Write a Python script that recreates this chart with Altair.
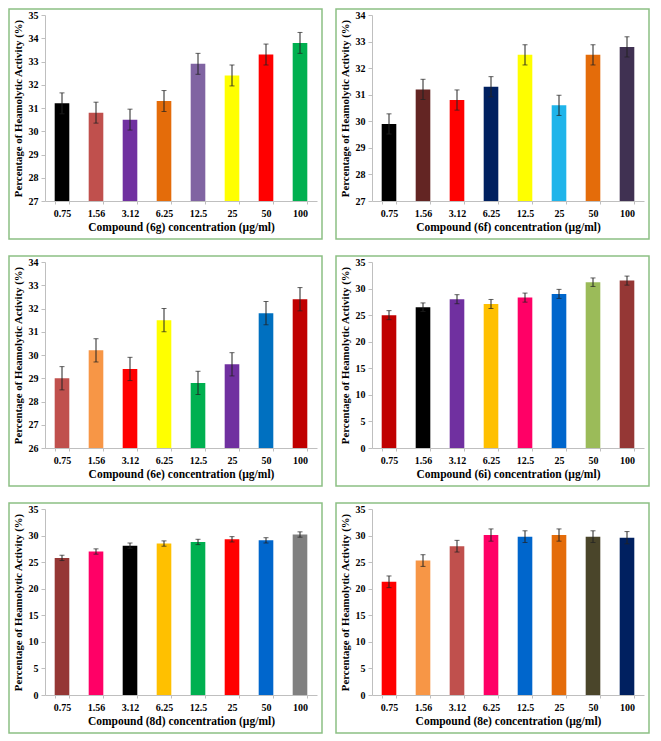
import altair as alt
import pandas as pd

conc = ["0.75", "1.56", "3.12", "6.25", "12.5", "25", "50", "100"]

# Compound 6g
v_6g = [31.2, 30.8, 30.5, 31.3, 32.9, 32.4, 33.3, 33.8]
e_6g = [0.45, 0.45, 0.45, 0.45, 0.45, 0.45, 0.45, 0.45]
c_6g = ["#000000", "#C0504D", "#7030A0", "#E46C0A", "#8064A2", "#FFFF00", "#FF0000", "#00B050"]

# Compound 6f
v_6f = [29.9, 31.2, 30.8, 31.3, 32.5, 30.6, 32.5, 32.8]
e_6f = [0.38, 0.38, 0.38, 0.38, 0.38, 0.38, 0.38, 0.38]
c_6f = ["#000000", "#632523", "#FF0000", "#002060", "#FFFF00", "#1FB4EA", "#E46C0A", "#403152"]

# Compound 6e
v_6e = [29.0, 30.2, 29.4, 31.5, 28.8, 29.6, 31.8, 32.4]
e_6e = [0.5, 0.5, 0.5, 0.5, 0.5, 0.5, 0.5, 0.5]
c_6e = ["#C0504D", "#F79646", "#FF0000", "#FFFF00", "#00B050", "#7030A0", "#0070C0", "#C00000"]

# Compound 6i
v_6i = [25.0, 26.5, 28.0, 27.1, 28.3, 29.0, 31.2, 31.5]
e_6i = [0.85, 0.8, 0.85, 0.85, 0.85, 0.85, 0.8, 0.85]
c_6i = ["#C00000", "#000000", "#7030A0", "#FFC000", "#FF0066", "#0066CC", "#9BBB59", "#953735"]

# Compound 8d
v_8d = [25.8, 27.0, 28.1, 28.5, 28.8, 29.3, 29.1, 30.2]
e_8d = [0.5, 0.5, 0.5, 0.5, 0.5, 0.5, 0.5, 0.5]
c_8d = ["#953735", "#FF0066", "#000000", "#FFC000", "#00B050", "#FF0000", "#0066CC", "#808080"]

# Compound 8e
v_8e = [21.3, 25.3, 28.0, 30.1, 29.8, 30.1, 29.8, 29.6]
e_8e = [1.1, 1.1, 1.1, 1.15, 1.1, 1.15, 1.1, 1.15]
c_8e = ["#FF0000", "#F79646", "#C0504D", "#FF0066", "#0066CC", "#E46C0A", "#4A452A", "#002060"]

Y_TITLE = "Percentage of Heamolytic Activity (%)"
W = 272
H = 186
FONT = "Liberation Serif"
BORDER = "#8CC084"


def panel(name, vals, errs, cols, dmin, dmax, step):
    df = pd.DataFrame({
        "conc": conc,
        "val": vals,
        "lo": [v - e for v, e in zip(vals, errs)],
        "hi": [v + e for v, e in zip(vals, errs)],
        "col": cols,
    })
    xscale = alt.Scale(paddingInner=0.57, paddingOuter=0.285)
    xaxis = alt.Axis(title=f"Compound ({name}) concentration (µg/ml)", labelAngle=0,
                     tickBand="extent", tickSize=3, labelPadding=4, titlePadding=3,
                     titleFontSize=11.5)
    xenc = alt.X("conc:N", sort=conc, scale=xscale, axis=xaxis)
    yscale = alt.Scale(domain=[dmin, dmax], nice=False, zero=False)
    ticks = list(range(dmin, dmax + 1, step))
    yaxis = alt.Axis(title=Y_TITLE, values=ticks, tickSize=4, labelPadding=3,
                     labelOverlap=False, titlePadding=5, titleFontSize=10.8)
    base = alt.Chart(df)
    bars = base.mark_bar().encode(
        x=xenc,
        y=alt.Y("val:Q", scale=yscale, axis=yaxis),
        y2=alt.datum(dmin),
        color=alt.Color("col:N", scale=None),
    )
    rule = base.mark_rule(color="#222222", strokeWidth=1).encode(
        x=xenc, y=alt.Y("lo:Q", scale=yscale, axis=yaxis), y2="hi:Q"
    )
    cap_hi = base.mark_tick(color="#222222", size=5, thickness=1).encode(
        x=xenc, y=alt.Y("hi:Q", scale=yscale, axis=yaxis)
    )
    cap_lo = base.mark_tick(color="#222222", size=5, thickness=1).encode(
        x=xenc, y=alt.Y("lo:Q", scale=yscale, axis=yaxis)
    )
    border = alt.Chart(pd.DataFrame({"k": [0]})).mark_rect(
        fillOpacity=0, stroke=BORDER, strokeWidth=1.5
    ).encode(
        x=alt.value(-36), x2=alt.value(W + 5),
        y=alt.value(-6), y2=alt.value(H + 38),
    )
    return alt.layer(border, bars, rule, cap_hi, cap_lo).properties(width=W, height=H)


p1 = panel("6g", v_6g, e_6g, c_6g, 27, 35, 1)
p2 = panel("6f", v_6f, e_6f, c_6f, 27, 34, 1)
p3 = panel("6e", v_6e, e_6e, c_6e, 26, 34, 1)
p4 = panel("6i", v_6i, e_6i, c_6i, 0, 35, 5)
p5 = panel("8d", v_8d, e_8d, c_8d, 0, 35, 5)
p6 = panel("8e", v_8e, e_8e, c_8e, 0, 35, 5)

chart = alt.vconcat(
    alt.hconcat(p1, p2, spacing=12),
    alt.hconcat(p3, p4, spacing=12),
    alt.hconcat(p5, p6, spacing=12),
    spacing=15,
).configure_view(stroke=None).configure_axis(
    labelFont=FONT, labelFontWeight="bold", labelFontSize=10, labelColor="#000000",
    titleFont=FONT, titleFontWeight="bold", titleColor="#000000",
    domainColor="#BFBFBF", tickColor="#BFBFBF", grid=False,
).properties(padding=0)

chart.save("out.html", embed_options={"renderer": "svg", "actions": False})
